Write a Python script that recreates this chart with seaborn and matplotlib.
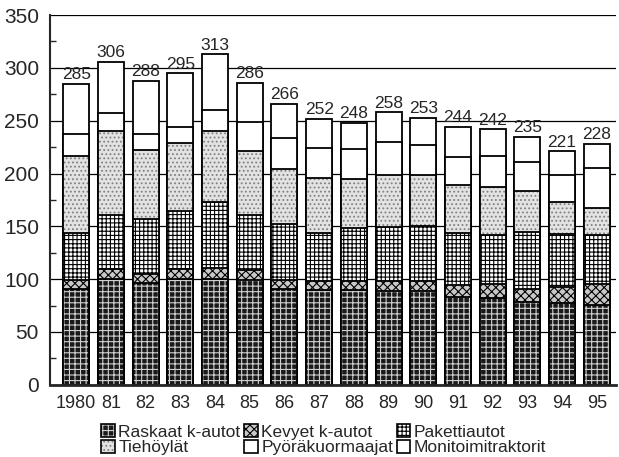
import numpy as np
import pandas as pd
import seaborn as sns
import matplotlib.pyplot as plt
from matplotlib.patches import Patch
from matplotlib.ticker import MultipleLocator

# data (units per year)
years = ["1980", "81", "82", "83", "84", "85", "86", "87",
         "88", "89", "90", "91", "92", "93", "94", "95"]
raskaat = [91, 100, 96, 100, 100, 99, 91, 90, 90, 89, 89, 83, 82, 78, 77, 76]
kevyet = [8, 10, 9, 10, 11, 10, 8, 8, 8, 9, 9, 11, 13, 13, 16, 19]
paketti = [45, 51, 52, 55, 62, 52, 53, 46, 50, 51, 52, 50, 47, 54, 50, 47]
tiehoylat = [73, 79, 65, 64, 67, 60, 52, 52, 47, 50, 49, 45, 45, 38, 30, 25]
pyora = [20, 17, 15, 15, 20, 28, 30, 28, 28, 31, 28, 27, 30, 28, 26, 38]
monitoimi = [48, 49, 51, 51, 53, 37, 32, 28, 25, 28, 26, 28, 25, 24, 22, 23]

labels = ["Raskaat k-autot", "Kevyet k-autot", "Pakettiautot",
          "Tiehöylät", "Pyöräkuormaajat", "Monitoimitraktorit"]

df = pd.DataFrame({"vuosi": years, labels[0]: raskaat, labels[1]: kevyet,
                   labels[2]: paketti, labels[3]: tiehoylat,
                   labels[4]: pyora, labels[5]: monitoimi})

# styles: (face, hatch, hatch colour)
styles = {
    labels[0]: ("#1a1a1a", "+++", "#cfcfcf"),
    labels[1]: ("#c8c8c8", "xxxx", "black"),
    labels[2]: ("white", "++++", "black"),
    labels[3]: ("#e2e2e2", "....", "#808080"),
    labels[4]: ("white", "", "black"),
    labels[5]: ("white", "", "black"),
}

sns.set_style("ticks")
plt.rcParams["font.family"] = ["Liberation Sans", "DejaVu Sans"]
plt.rcParams["hatch.linewidth"] = 0.8

fig = plt.figure(figsize=(6.19, 4.57), dpi=100)
ax = fig.add_axes([0.081, 0.158, 0.914, 0.809])

# stacked bars: draw cumulative totals, top layer first
cum = df[labels].cumsum(axis=1)
for lab in labels[::-1]:
    face, hatch, hcol = styles[lab]
    if hcol == "black":
        sns.barplot(x=df["vuosi"], y=cum[lab], order=years, color=face, saturation=1,
                    edgecolor="black", hatch=hatch, linewidth=1.3, width=0.75,
                    errorbar=None, ax=ax)
    else:
        sns.barplot(x=df["vuosi"], y=cum[lab], order=years, color=face, saturation=1,
                    edgecolor=hcol, hatch=hatch, linewidth=0, width=0.75,
                    errorbar=None, ax=ax)
        sns.barplot(x=df["vuosi"], y=cum[lab], order=years, color="black", fill=False,
                    linewidth=1.3, width=0.75, errorbar=None, ax=ax)

totals = cum[labels[-1]].values
for i, t in enumerate(totals):
    ax.text(i, t + 1.5, str(t), ha="center", va="bottom", fontsize=12.5)

ax.set_xlim(-0.75, 15.55)
ax.set_ylim(0, 350)
ax.yaxis.set_major_locator(MultipleLocator(50))
ax.yaxis.set_minor_locator(MultipleLocator(25))
ax.tick_params(axis="y", which="major", length=0, labelsize=15, pad=8)
ax.tick_params(axis="y", which="minor", length=4, direction="in", width=1)
ax.tick_params(axis="x", length=0, labelsize=13, pad=7)
ax.set_axisbelow(True)
ax.yaxis.grid(True, color="black", linewidth=0.9)
ax.set_xlabel("")
ax.set_ylabel("")
for s in ["top", "right"]:
    ax.spines[s].set_visible(False)
ax.spines["left"].set_linewidth(1.5)
ax.spines["bottom"].set_linewidth(2)

# legend: 2 rows x 3 columns, filled row-wise
handles = {}
for lab in labels:
    face, hatch, hcol = styles[lab]
    fill = Patch(facecolor=face, edgecolor=hcol, hatch=hatch, linewidth=0)
    edge = Patch(facecolor="none", edgecolor="black", linewidth=1.2)
    handles[lab] = (fill, edge)
order = [labels[0], labels[3], labels[1], labels[4], labels[2], labels[5]]
fig.legend([handles[l] for l in order], order, ncol=3, frameon=False,
           loc="upper left", bbox_to_anchor=(0.163, 0.072), fontsize=12.5,
           handlelength=0.8, handleheight=0.8, handletextpad=0.2,
           columnspacing=0.2, labelspacing=0.0, borderpad=0, borderaxespad=0)

fig.savefig("out.png", dpi=100)
